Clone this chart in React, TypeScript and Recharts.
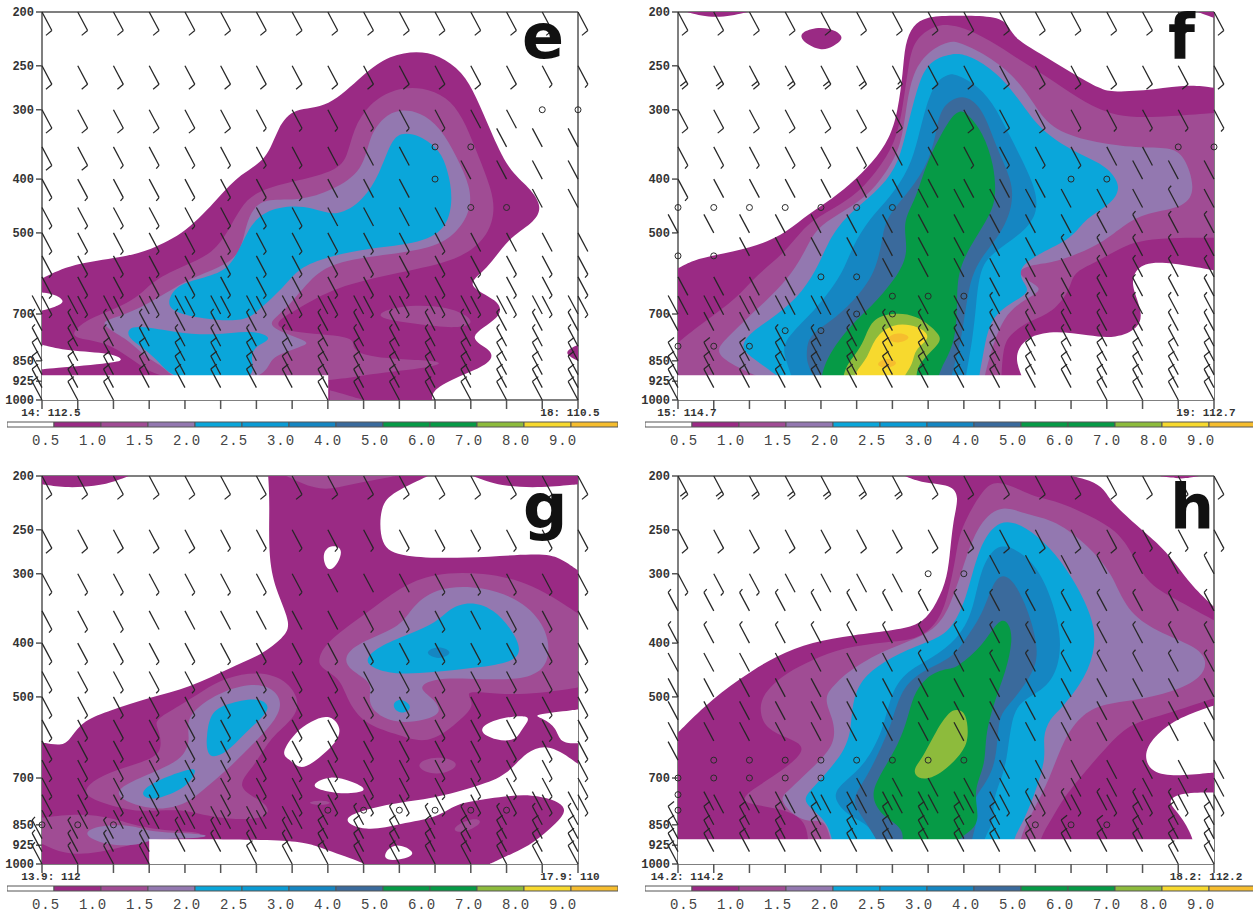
import React from "react";
import { ComposedChart, BarChart, Bar, Scatter, XAxis, YAxis, ReferenceLine, Curve } from "recharts";

type Pt = number[];
type Layer = { level: number; pts: Pt[] };

const PRESSURE_TICKS = [200, 250, 300, 400, 500, 700, 850, 925, 1000];
const SECTION_COLS = [0, 6.67, 13.33, 20, 26.67, 33.33, 40, 46.67, 53.33, 60, 66.67, 73.33, 80, 86.67, 93.33, 100];
const WIND_LEVELS = [200, 250, 300, 350, 400, 450, 500, 550, 600, 650, 700, 750, 800, 850, 900, 950, 1000];
const LEGEND_LABELS = ["0.5", "1.0", "1.5", "2.0", "2.5", "3.0", "4.0", "5.0", "6.0", "7.0", "8.0", "9.0"];
const LEGEND_COLORS = ["#ffffff", "#9a2a84", "#a04c94", "#9378b0", "#0aa6da", "#0a9bd4", "#1586c2", "#3a6a9c", "#069a46", "#069a46", "#8dbb3c", "#f7d92e", "#f6bd2e"];
const LEVEL_COLORS: Record<number, string> = { 0: "#ffffff", 1: "#9a2a84", 1.5: "#a04c94", 2: "#9378b0", 2.5: "#0aa6da", 4: "#1586c2", 5: "#3a6a9c", 6: "#069a46", 8: "#8dbb3c", 9: "#f7d92e", 9.5: "#f6bd2e" };
const WIND_SPEED: Record<string, number> = { o: 0, s: 2, h: 5, f: 10, g: 15, d: 20 };
const DIR_UP = 152;
const DIR_LOW = 332;

const E_LABELS = ["14: 112.5", "18: 110.5"];
const F_LABELS = ["15: 114.7", "19: 112.7"];
const G_LABELS = ["13.9: 112", "17.9: 110"];
const H_LABELS = ["14.2: 114.2", "18.2: 112.2"];

const E_WIND = [
  "ffffffffffffffff", "ffffffffffffffhh", "ffffffhhhhhhssoo", "ffhhhhhhsssooSSS", "hhhhhhhhsssoSSSS", "hhhhhhhhssssooSS",
  "hhhhhhhhhhhhssss", "hhhhhhhhhhhhhhhh", "hhhhhhhhhhhhhhhh", "hhhhhhhhhhhhhhhh", "SSSSSSSSSSSSSSSS", "HHHHHHHHHHHHHHHH",
  "HHHHHHHHHHHHHHHH", "FFFFFFFFFFFFFFFF", "FFFFFFFFFFFFFFFF", "FFFFFFFFFFFFFFFF", "FFF.....FFFFFFFF",
];
const F_WIND = [
  "ffffffffffffffff", "ddddddgfffffffff", "fffffffffffhhhhh", "hhhhhhsshhhhssoo", "hssssssssssooSSS", "oooooooSSSSSSSHS",
  "SSSSSSSSSSSSHHHH", "ooSSSSSSSSSHHHHH", "ssssooSSSSSSHHHH", "ssssssoooSSSHHHH", "SSSSSooSSHHHHHHH", "SSSooHHHHHHHHHHH",
  "oooHHHHHHHHHHHHH", "FFFFFFFFFFFFFFFF", "FFFFFFFFFFFFFFFF", "FFFFFFFFFFFFFFFF", "F...........FFFF",
];
const G_WIND = [
  "ffffffffffffffff", "fffffhhhhhhhhhhh", "hhhhhhhhssshhhhh", "hhhsssssshhhshhs", "hhhhhhhhhhhhhhhh", "hhhhhhhhhhhhhhhh",
  "hhhhhhhhhhhhhhhh", "hhhhhhhhhhhhhhhh", "hhhhhhhhhhhhhhhh", "hhhhhhhhhhhhhhhh", "hhhhhhhhhhhhhhhh", "hhhhhhhhhhhhhhhh",
  "ssssssssooooooSS", "oooSSSSSHHHHHHHH", "HHHHHHHHFFFFFFFF", "HHHHHHHHFFFFFFFF", "HHHH..FFFFFFFFFF",
];
const H_WIND = [
  "dddddddfffffffff", "fffffffffffffhhh", "hhhssssooSSSHHHH", "HHHHHHHHHHHHHHHH", "HHHHHHHHHHHHHHHH", "SSSSSSSHHHHHHHHH",
  "SSSSSSSSSSSSSSSS", "SSSSSSSSSSSSSSSS", "SSSSSSSSSSSSSSSS", "Soooooooosssssss", "ooooosssssssssss", "osssssssshhhhhhh",
  "oSSSSSSSSSHHHHHH", "FFFFFFFFFFoooFFF", "FFFFFFFFFFFFFFFF", "FFFFFFFFFFFFFFFF", "F.............FF",
];

const E_LAYERS: Layer[] = [
  { level: 1, pts: [[0,604,1],[5.6,568],[15,553],[20,538],[27,499],[33,431],[37,391],[42,370],[44,322],[47,297],[53.4,299],[60,258],[65,239],[70,235],[74,239],[78.5,256],[81,284],[83.6,326],[87,386],[91,414],[93.5,450],[91.6,481],[87,510],[83,584],[78.5,622],[85.5,661],[86,710],[78.5,772],[84.5,814],[83.6,860],[79,897],[72.8,955],[72.8,1000,1],[0,1000,1]] },
  { level: 1, pts: [[100,795,1],[97,822],[100,850,1]] },
  { level: 1.5, pts: [[4.7,772],[7.6,725],[10.4,704],[15,676],[18.3,648],[20.7,609],[26.7,572],[32,544],[35,491],[37,450],[40,419],[48,402],[55,386],[57,365],[58,326],[61,292],[66,274],[71,273],[75.5,284],[78.5,309],[81,355],[84,419],[84.5,461],[83,510],[78,560],[66.8,589],[54.3,627],[48,684],[43,725],[45.3,756],[58.8,766],[57.5,804],[60.6,842],[76,849],[73,874],[60.6,897],[53.4,931],[23.3,931],[18.3,867],[14,807],[10.3,782]] },
  { level: 1.5, pts: [[53.7,960,1],[60,1000,1],[53.7,1000,1]] },
  { level: 1.5, pts: [[61,710],[66,675],[76,675],[81.5,725],[77.5,745],[70,730]] },
  { level: 2, pts: [[10.4,728],[13.2,713],[18.3,684],[23.3,640],[27.6,604],[33.2,577],[37,548],[38,485],[39.4,450],[42,433],[48,438],[54.3,419],[60,386],[61,336],[63.6,309],[66.8,299],[70.5,303],[74.3,322],[77.4,365],[80,414],[80,456],[77.4,501],[73,533],[63.6,548],[54.3,565],[50,604],[45,699],[41,735],[49.6,782],[49.6,795],[44.4,825],[42.5,849],[41,931],[25,931],[23.3,878],[18.8,831],[15.9,775]] },
  { level: 2.5, pts: [[23.5,676],[23.9,648],[25.7,616],[32,597],[35.6,572],[38.4,491],[41.2,459],[45.7,446],[50.6,450],[55,469],[60,437],[63,391],[65,344],[66.8,329],[70.5,333],[74.3,355],[75.7,386],[76.7,431],[75.7,489],[71,522],[60.6,533],[53,553],[48,577],[45,628],[40.7,684],[38,725],[29.5,713],[25,696]] },
  { level: 2.5, pts: [[16,743],[18.3,735],[25,756],[32,766],[39.4,746],[43.5,775],[39.7,798],[38.8,842],[40.3,931],[25,931],[22,856],[18.8,804],[16,772]] },
  { level: 0, pts: [[0,640,1],[2.5,645],[4.5,665],[2.5,680],[0,690,1]] },
  { level: 0, pts: [[0,795,1],[4.7,816],[13.2,823],[15.5,848],[13,858],[0,880,1]] },
  { level: 0, pts: [[0,902,1],[53.4,902,1],[53.4,1000,1],[0,1000,1]] },
];

const F_LAYERS: Layer[] = [
  { level: 1, pts: [[1.6,200,1],[7,206],[13,200,1]] },
  { level: 1, pts: [[22.4,220],[24.6,214],[28.3,213],[31.4,222],[29,231],[26.8,235],[24,229]] },
  { level: 1, pts: [[97,200,1],[100,205,1],[100,200,1]] },
  { level: 1, pts: [[0,579,1],[2.8,560],[6.9,548],[13.4,533],[19.6,505],[23.3,470],[27.7,441],[32,410],[36.4,373],[39.5,338],[41,303],[42,256],[42.3,229],[43.8,211],[46.3,204],[50.7,203],[60,203],[61.8,213],[63,224],[67.4,237],[73.6,258],[79,276],[81,279],[89,276],[95.4,270],[100,274,1],[100,584,1],[92,565],[86.7,565],[84.8,596],[84.8,630],[86.7,696],[86,743],[81.7,775],[76.7,766],[70.5,750],[65.6,766],[63.4,807],[63,856],[64.6,924],[64.6,960,1],[0,960,1]] },
  { level: 1.5, pts: [[0,788,1],[4.7,725],[11,656],[14.6,596],[20,542],[23.3,491],[26.5,465],[32.6,433],[37,389],[40.7,343],[42,294],[43,249],[44,224],[48,211],[50.7,211],[53,213],[58,224],[64.3,246],[70.5,268],[76,292],[81.7,309],[89,310],[100,304,1],[100,510,1],[87.3,510],[82.3,533],[78,565],[73.6,589],[73.3,630],[70,696],[65.6,719],[61.8,762],[60.6,807],[60.3,924],[60.3,960,1],[0,960,1]] },
  { level: 2, pts: [[6.6,821],[9,775],[13.4,704],[17,656],[21.5,589],[24,531],[25.8,491],[29.5,465],[35,433],[38.9,389],[41.7,348],[42.6,294],[44,252],[47.6,232],[50.7,226],[52,226],[57,237],[62.5,259],[66.2,290],[69.3,324],[76.8,343],[86,352],[91.7,350],[94.5,362],[96.6,416],[94.8,450],[87.3,459],[83,485],[78.6,527],[70.5,565],[67.4,568],[63.7,579],[63.7,601],[68.7,630],[65,656],[60.6,704],[58,842],[57,924],[57,960,1],[17.8,960,1],[17.5,930],[11,874]] },
  { level: 2.5, pts: [[11.5,804],[13.4,756],[18.4,704],[23.3,640],[26.5,565],[27.7,527],[30.8,470],[37,423],[40.7,383],[42.3,338],[43.8,294],[45.7,254],[48.2,242],[50.7,239],[52,237],[55.6,242],[60.6,263],[64.3,294],[68,330],[75,362],[80,378],[83,414],[80.5,446],[76,470],[73.6,512],[67.4,544],[63.4,579],[64.3,614],[66,640],[61,676],[58,725],[57,821],[56,924],[56,960,1],[21.8,960,1],[17.8,893],[14,842]] },
  { level: 4, pts: [[19.3,788],[24.6,704],[27.7,648],[30.8,589],[32.6,527],[35.8,470],[39.5,433],[43.2,383],[44.8,338],[46.3,294],[48.2,265],[50.7,259],[51.3,258],[55,267],[58.7,290],[61.8,333],[66,399],[67.4,446],[65.6,491],[58.7,542],[56.3,579],[55.6,676],[55,775],[53.5,924],[53.5,960,1],[22.1,960,1],[20,842]] },
  { level: 5, pts: [[24,821],[24.3,766],[28.3,725],[32.6,667],[37,589],[38.2,505],[38.9,470],[42,433],[46.3,383],[48.2,333],[48.8,297],[53,279],[56.9,297],[59.4,352],[62.2,399],[62.6,441],[60.6,499],[55.6,565],[54,640],[53,775],[50.7,924],[50.7,960,1],[26.5,960,1],[24,860]] },
  { level: 6, pts: [[27,856],[32,735],[35.8,684],[40.7,604],[43.2,542],[41.7,479],[44.5,433],[46.3,373],[50.7,310],[52.5,301],[53.8,303],[56.9,329],[59,378],[59.4,433],[58,470],[52.5,565],[52,640],[52,788],[48.8,878],[48,960,1],[26.5,960,1]] },
  { level: 8, pts: [[31,875],[33,831],[34.8,782],[36,715],[40,696],[44.5,702],[48.5,755],[49.5,785],[44.5,860],[44.5,924],[44.5,960,1],[30.5,960,1]] },
  { level: 9, pts: [[33,890],[35.5,838],[36.5,775],[40,725],[45,735],[47.5,772],[44,810],[44,860],[41.5,924],[41.5,960,1],[32,960,1]] },
  { level: 9.5, pts: [[38.5,775],[41,752],[44,770],[41,795]] },
  { level: 9.5, pts: [[36.5,865],[39,835],[41.5,858],[39,880]] },
  { level: 0, pts: [[0,902,1],[100,902,1],[100,1000,1],[0,1000,1]] },
];

const G_LAYERS: Layer[] = [
  { level: 1, pts: [[0,200,1],[0,207,1],[4,210],[10,209],[14,204],[16.2,200,1]] },
  { level: 1, pts: [[80.4,200,1],[85.4,209],[93.5,210],[100,207,1],[100,200,1]] },
  { level: 1, pts: [[0,604,1],[4,614],[5.4,592],[7.7,551],[12.7,529],[20,501],[27.6,481],[35,443],[41,420],[45,391],[46.6,371],[43.8,325],[42.2,283],[42.5,224],[42.2,200,1],[72,200,1],[65.5,214],[63,226],[63,268],[66.8,280],[79,282],[92.9,275],[96.6,280],[100,296,1],[100,1000,1],[0,1000,1]] },
  { level: 1.5, pts: [[45.6,200,1],[52,214],[57.4,207],[66,200,1]] },
  { level: 1.5, pts: [[7,746],[10.2,699],[15.2,670],[20,650],[22.6,624],[21.7,568],[20.8,551],[25.7,519],[30,487],[34.4,461],[40,450],[45,461],[48,501],[47.5,544],[42.5,592],[40,660],[35.7,728],[41.3,769],[42.8,810],[40,835],[31.3,825],[25.7,792],[18.3,810],[11.4,778]] },
  { level: 1.5, pts: [[0,825,1],[7,810],[13.3,825],[20,870],[30.7,875],[29,895],[20,905,1],[10.2,960],[4,960],[0,919,1]] },
  { level: 1.5, pts: [[51.5,425],[53.4,395],[60.5,354],[66.8,317],[73,299],[82.3,298],[91.6,312],[100,354,1],[100,481,1],[92.9,493],[85.4,496],[78.3,485],[81,514],[78.6,544],[75,583],[71,606],[66,583],[60,559],[57,508],[55.6,461],[51.8,443]] },
  { level: 1.5, pts: [[68.8,664],[73.6,635],[79,660],[73.6,700]] },
  { level: 1.5, pts: [[76,862],[81,820],[82.5,845],[78,885]] },
  { level: 1.5, pts: [[49,775],[52,766],[54.5,775],[52,786]] },
  { level: 2, pts: [[14,753],[14.5,728],[18.3,699],[24.5,660],[26.7,632],[27.6,598],[27,559],[28.2,529],[32.6,493],[38.8,471],[43.2,481],[45,514],[43.2,559],[37.6,632],[35,670],[30,737],[27,779],[22,802],[16.4,779]] },
  { level: 2, pts: [[7,882],[10.8,849],[17.7,852],[20,878],[31.3,882],[30.7,900],[20,900],[18.3,927],[12,927]] },
  { level: 2, pts: [[56.2,425],[58.7,400],[66.8,375],[68.6,349],[73,317],[82.3,315],[90.4,338],[94.4,381],[94.7,425],[92.9,453],[88.5,467],[79,463],[73,463],[69.9,481],[73,503],[74.8,533],[71.7,551],[66,559],[61.8,534],[60.8,501],[61.8,471],[57.4,448]] },
  { level: 2.5, pts: [[30.7,592],[31.3,534],[34.4,514],[40,501],[42.2,514],[42.2,534],[37.6,583],[34.4,632],[31.3,646],[30.7,617]] },
  { level: 2.5, pts: [[18.3,737],[22.6,699],[28.2,670],[28.9,679],[27,728],[22,763],[19.2,763]] },
  { level: 2.5, pts: [[60.2,429],[62.4,407],[68.6,385],[73.6,368],[76,346],[79.8,336],[84.2,346],[87.9,381],[89.5,412],[88,433],[81,443],[73,452],[65.5,456],[61.5,443]] },
  { level: 2.5, pts: [[65,518],[66.8,500],[69.5,522],[67,540]] },
  { level: 4, pts: [[71,416],[74,403],[77,416],[74,430]] },
  { level: 0, pts: [[91,539],[100,527,1],[100,606,1],[96.6,606],[96,568],[93.5,546]] },
  { level: 0, pts: [[81,576],[84,548],[92,535],[89.5,570],[88.5,600],[84.8,600]] },
  { level: 0, pts: [[54.3,825],[65.5,775],[73,763],[81.7,722],[86.7,693],[90.4,625],[94.7,606],[100,660,1],[100,1000,1],[83.5,1000,1],[88,955],[91.6,919],[96,845],[98.8,785],[91.6,743],[83,763],[77,779],[74,825],[66.8,845],[60.5,878]] },
  { level: 0, pts: [[20,902,1],[48.1,902],[51.8,935],[60,995],[60,1000,1],[20,1000,1]] },
  { level: 0, pts: [[63,985],[65.5,905],[70.5,958],[66.8,985]] },
  { level: 0, pts: [[50.5,716],[53.7,692],[58,710],[61.5,740],[55.6,750],[51,733]] },
  { level: 0, pts: [[44.3,635],[47.5,575],[50,555],[53.5,535],[56,568],[55,605],[50.5,660],[48,675],[46.5,650]] },
  { level: 0, pts: [[52,278],[53.7,265],[56.8,270],[53.7,305]] },
];

const H_LAYERS: Layer[] = [
  { level: 1, pts: [[89.8,200,1],[94,203],[97.2,200,1]] },
  { level: 1, pts: [[0,580,1],[4.7,521],[11.5,463],[18.4,421],[25,398],[32.6,387],[40.7,379],[45,371],[47.6,349],[50,312],[50.7,280],[51.3,240],[52.5,218],[51,207],[45.7,206],[42.3,200,1],[73.6,200,1],[78,205],[79.9,214],[81,224],[86.7,251],[89.8,266],[92.3,283],[96,317],[100,344,1],[100,518,1],[93.5,544],[89.2,583],[86.7,632],[88.2,688],[93.5,695],[100,684,1],[100,743,1],[94,743],[91,769],[93.5,810],[96.3,900],[96.3,960,1],[0,960,1]] },
  { level: 1.5, pts: [[15,514],[17,481],[20.2,453],[25,429],[30.8,407],[38.9,398],[44.5,394],[47.6,375],[50,344],[52,275],[52.5,251],[57,209],[60,203],[66.2,218],[70,221],[74.9,231],[81,247],[84.2,268],[87.3,312],[92.3,331],[100,364,1],[100,503,1],[89.2,544],[84.2,559],[79.9,616],[76.1,679],[71.8,762],[69.9,825],[67.4,900],[67.4,960,1],[24.3,960,1],[24.3,831],[19,792],[11.2,778],[13.4,737],[19.6,679],[24.6,616],[20.2,592],[15.9,568]] },
  { level: 2, pts: [[27,501],[29.6,471],[32,448],[38.3,412],[46.3,387],[48.8,368],[50.7,344],[53,296],[55.6,247],[60,224],[65,235],[70.5,240],[76.7,268],[81,299],[83.6,350],[89.2,381],[96.6,405],[98.8,429],[97.9,461],[92.3,491],[84.8,508],[79.9,514],[75.5,534],[71.8,598],[69.3,706],[66.2,802],[63.7,900],[63.7,960,1],[29,960,1],[27.7,825],[24.6,845],[20.9,810],[19,763],[20.2,743],[25.2,670],[29.6,606],[28.9,544]] },
  { level: 2.5, pts: [[23.3,763],[25.2,728],[32,617],[32.3,544],[33,487],[35.8,448],[41.3,416],[47.6,395],[50.7,381],[53.8,336],[56,268],[60,237],[65,247],[69.3,268],[73.6,304],[77.4,359],[78,405],[76.1,461],[71.8,522],[69.3,547],[68,592],[68.7,642],[66.8,737],[64.3,845],[62.5,900],[62.5,960,1],[29.2,960,1],[28.3,845],[24.6,792]] },
  { level: 4, pts: [[28.3,753],[31.4,706],[35,660],[38.3,574],[39.5,501],[42,453],[47.6,425],[52,395],[55,354],[56.3,296],[59.4,263],[63.7,272],[68,299],[71.2,368],[71.5,425],[69.3,481],[63.7,508],[62.2,551],[61.5,632],[60.6,695],[58.7,762],[59,845],[56.9,900],[56.9,960,1],[38.3,960,1],[35.8,845],[32,825]] },
  { level: 5, pts: [[32,769],[35,706],[38.3,606],[40,551],[41.4,493],[44.5,453],[50.7,429],[53.2,400],[56.9,354],[58.7,312],[60.6,299],[63,312],[65.6,354],[67.4,416],[66.2,453],[63,501],[60.6,530],[59.7,559],[59.4,660],[56.9,728],[55,763],[56,835],[54.7,900],[54.7,960,1],[38.5,960,1],[35,835]] },
  { level: 6, pts: [[36,762],[37,706],[41.4,606],[43.2,530],[44.1,491],[47,453],[50.7,444],[52,443],[56.9,405],[60,359],[61.8,368],[62.5,394],[61.2,448],[59.7,489],[57.2,583],[57.5,660],[55,737],[56.3,825],[55,870],[52,900],[52,960,1],[41.4,960,1],[42.6,864],[38.3,825]] },
  { level: 8, pts: [[44.1,670],[45.7,642],[48.2,574],[50.7,530],[52,526],[53.8,533],[54.3,592],[53.1,632],[48.8,692],[45.7,706],[44.1,692]] },
  { level: 0, pts: [[0,902,1],[100,902,1],[100,1000,1],[0,1000,1]] },
];

function expandCorners(pts: Pt[]) {
  const out: { x: number; p: number }[] = [];
  for (const pt of pts) {
    const n = pt[2] ? 3 : 1;
    for (let i = 0; i < n; i++) out.push({ x: pt[0], p: pt[1] });
  }
  return out;
}

function windCells(rows: string[]) {
  const out: { x: number; p: number; dir: number; speed: number }[] = [];
  rows.forEach((row, r) => {
    row.split("").forEach((c, i) => {
      if (c === ".") return;
      const lower = c.toLowerCase();
      out.push({ x: SECTION_COLS[i], p: WIND_LEVELS[r], dir: c === lower ? DIR_UP : DIR_LOW, speed: WIND_SPEED[lower] });
    });
  });
  return out;
}

const noMark = () => null;

function BarbShape(props: any) {
  const { cx, cy, payload } = props;
  const { dir, speed } = payload;
  if (speed === 0) return <circle cx={cx} cy={cy} r={3} fill="none" stroke="#2b2b2b" strokeWidth={1} />;
  const a = (dir * Math.PI) / 180;
  const ux = Math.sin(a);
  const uy = -Math.cos(a);
  const px = -uy;
  const py = ux;
  const L = 21;
  const ex = cx + ux * L;
  const ey = cy + uy * L;
  const feathers: React.ReactNode[] = [];
  let left = speed;
  let back = 0;
  while (left >= 5) {
    const len = left >= 10 ? 7.5 : 4;
    const bx = ex - ux * back;
    const by = ey - uy * back;
    feathers.push(<line key={back} x1={bx} y1={by} x2={bx + px * len + ux * 1.5} y2={by + py * len + uy * 1.5} />);
    left -= left >= 10 ? 10 : 5;
    back += 3.5;
  }
  return (
    <g stroke="#262626" strokeWidth={1.25} fill="none">
      <line x1={cx} y1={cy} x2={ex} y2={ey} />
      {feathers}
    </g>
  );
}

function Panel({ left, top, layers, wind, labels, letter, letterLeft, letterTop }: any) {
  const cornerTick = (p: any) => {
    const v = p.payload.value;
    if (v !== 0 && v !== 100) return <g />;
    return (
      <text x={p.x + (v === 0 ? 9 : -8)} y={p.y + 5} textAnchor="middle" fontFamily="Liberation Mono" fontWeight={700} fontSize={11} fill="#333">
        {v === 0 ? labels[0] : labels[1]}
      </text>
    );
  };
  return (
    <div style={{ position: "absolute", left, top }}>
      <ComposedChart width={620} height={440} margin={{ top: 12, right: 42, bottom: 0, left: 0 }}>
        <XAxis dataKey="x" type="number" domain={[0, 100]} ticks={SECTION_COLS} interval={0} tickSize={9} height={40} stroke="#555" strokeWidth={1.5} tick={cornerTick} />
        <YAxis dataKey="p" type="number" scale="log" domain={[200, 1000]} reversed ticks={PRESSURE_TICKS} interval={0} width={42} tickSize={6} stroke="#555" strokeWidth={1.5}
          tick={{ fontFamily: "Liberation Mono", fontWeight: 700, fontSize: 12, fill: "#333" }} />
        {layers.map((l: Layer, i: number) => (
          <Scatter key={i} data={expandCorners(l.pts)} shape={noMark} isAnimationActive={false} legendType="none"
            line={(lp: any) => <Curve {...lp} type="basisClosed" fill={LEVEL_COLORS[l.level]} stroke="none" />} />
        ))}
        <ReferenceLine y={200} stroke="#555" strokeWidth={1.5} />
        <ReferenceLine x={100} stroke="#555" strokeWidth={1.5} />
        <Scatter data={windCells(wind)} shape={BarbShape} isAnimationActive={false} legendType="none" />
      </ComposedChart>
      <div style={{ position: "absolute", left: letterLeft, top: letterTop, fontFamily: "DejaVu Sans", fontWeight: 700, fontSize: 62, lineHeight: "62px", color: "#111" }}>{letter}</div>
    </div>
  );
}

const LEGEND_ROW = [Object.fromEntries(LEGEND_COLORS.map((_, i) => ["s" + i, 1]))];
const LEGEND_TICKS = LEGEND_LABELS.map((_, i) => i + 1);

function Legend({ left, top }: any) {
  const tick = (p: any) => (
    <text x={p.x - 8} y={p.y + 9} textAnchor="middle" fontFamily="Liberation Mono" fontWeight={400} fontSize={14} fill="#444" letterSpacing={1}>
      {LEGEND_LABELS[p.payload.value - 1]}
    </text>
  );
  return (
    <div style={{ position: "absolute", left, top, width: 611, overflow: "hidden" }}>
      <BarChart width={611} height={28} layout="vertical" data={LEGEND_ROW} margin={{ top: 0, right: 0, bottom: 0, left: 0 }} barSize={5}>
        <XAxis type="number" domain={[0, 13]} ticks={LEGEND_TICKS} interval={0} axisLine={false} tickLine={false} height={20} tick={tick} />
        <YAxis type="category" hide />
        {LEGEND_COLORS.map((c, i) => (
          <Bar key={i} dataKey={"s" + i} stackId="a" fill={c} stroke="#555" strokeWidth={1} isAnimationActive={false} />
        ))}
      </BarChart>
    </div>
  );
}

export default function App() {
  return (
    <div style={{ position: "absolute", left: 0, top: 0, width: 1253, height: 913, overflow: "hidden", background: "#fff" }}>
      <Panel left={0} top={0} layers={E_LAYERS} wind={E_WIND} labels={E_LABELS} letter="e" letterLeft={522} letterTop={6} />
      <Panel left={636} top={0} layers={F_LAYERS} wind={F_WIND} labels={F_LABELS} letter="f" letterLeft={532} letterTop={6} />
      <Panel left={0} top={464} layers={G_LAYERS} wind={G_WIND} labels={G_LABELS} letter="g" letterLeft={523} letterTop={12} />
      <Panel left={636} top={464} layers={H_LAYERS} wind={H_WIND} labels={H_LABELS} letter="h" letterLeft={534} letterTop={12} />
      <Legend left={7} top={420} />
      <Legend left={645} top={420} />
      <Legend left={7} top={884} />
      <Legend left={645} top={884} />
    </div>
  );
}
